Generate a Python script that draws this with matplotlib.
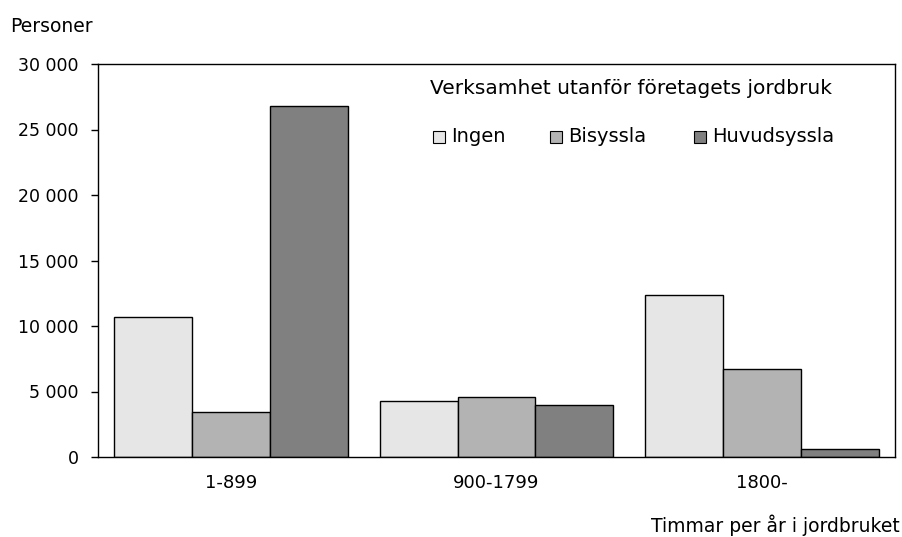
import matplotlib
matplotlib.use("Agg")
import matplotlib.pyplot as plt
import numpy as np
from matplotlib.patches import Rectangle

plt.rcParams['font.family'] = ['DejaVu Sans']

categories = ["1-899", "900-1799", "1800-"]
series_names = ["Ingen", "Bisyssla", "Huvudsyssla"]
ingen = [10700, 4300, 12400]
bisyssla = [3400, 4600, 6700]
huvudsyssla = [26800, 4000, 600]
colors = ["#e6e6e6", "#b3b3b3", "#808080"]
yticks = [0, 5000, 10000, 15000, 20000, 25000, 30000]

W, H = 903, 537
fig = plt.figure(figsize=(W/100, H/100), dpi=100)
ax = fig.add_axes([98/W, 1-457/H, 797/W, 393/H])

x = np.arange(len(categories))
w = 0.293
for i, (vals, c) in enumerate(zip([ingen, bisyssla, huvudsyssla], colors)):
    ax.bar(x + (i-1)*w, vals, w, color=c, edgecolor="black", linewidth=1.0, zorder=2)

ax.set_xlim(-0.5, 2.5)
ax.set_ylim(0, 30000)
ax.set_yticks(yticks)
ax.set_yticklabels([f"{v:,}".replace(",", " ") for v in yticks], fontsize=12.5)
ax.set_xticks(x)
ax.set_xticklabels(categories, fontsize=13)
ax.tick_params(axis='x', length=0, pad=12)
ax.tick_params(axis='y', length=5, width=1, direction='out', pad=9)
for s in ax.spines.values():
    s.set_linewidth(1.0)
    s.set_color("black")

fig.text(10/W, 1-27/H, "Personer", fontsize=13.5, ha='left', va='center')
fig.text(900/W, 1-525/H, "Timmar per år i jordbruket", fontsize=13.5, ha='right', va='center')

# legend
fig.text(430/W, 1-88/H, "Verksamhet utanför företagets jordbruk", fontsize=14.5, ha='left', va='center')
leg_x = [433, 550, 694]
for lx, name, c in zip(leg_x, series_names, colors):
    fig.add_artist(Rectangle((lx/W, 1-143/H), 12/W, 12/H, transform=fig.transFigure,
                             facecolor=c, edgecolor="black", linewidth=0.8))
    fig.text((lx+18)/W, 1-137/H, name, fontsize=14, ha='left', va='center')

fig.savefig("out.png", dpi=100)
